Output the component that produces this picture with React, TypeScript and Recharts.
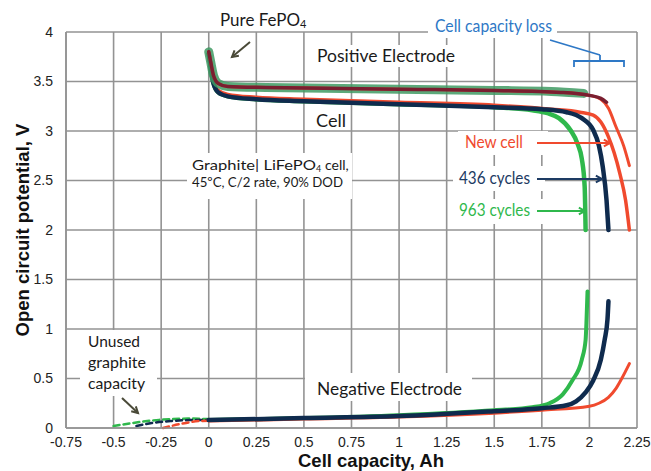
import React from 'react';
import { LineChart, Line, XAxis, YAxis, CartesianGrid } from 'recharts';

type Pt = [number, number];

// x ticks (Ah) and y ticks (V)
const xTicks = [-0.75, -0.5, -0.25, 0, 0.25, 0.5, 0.75, 1, 1.25, 1.5, 1.75, 2, 2.25];
const yTicks = [0, 0.5, 1, 1.5, 2, 2.5, 3, 3.5, 4];

// positive electrode
const posNew: Pt[] = [
  [0, 3.8], [0.01, 3.7], [0.025, 3.56], [0.05, 3.48], [0.1, 3.45], [0.3, 3.44], [0.7, 3.43],
  [1.1, 3.42], [1.5, 3.41], [1.85, 3.39], [2.0, 3.36], [2.06, 3.32], [2.1, 3.23], [2.14, 3.04],
  [2.18, 2.85], [2.21, 2.65],
];
const pos436: Pt[] = [
  [0, 3.8], [0.01, 3.7], [0.025, 3.56], [0.05, 3.48], [0.1, 3.45], [0.3, 3.44], [0.7, 3.43],
  [1.1, 3.42], [1.5, 3.41], [1.85, 3.39], [2.0, 3.36], [2.06, 3.33], [2.09, 3.29],
];
const pos963: Pt[] = [
  [0, 3.8], [0.01, 3.7], [0.025, 3.56], [0.05, 3.48], [0.1, 3.45], [0.3, 3.44], [0.7, 3.43],
  [1.1, 3.42], [1.5, 3.41], [1.8, 3.4], [1.97, 3.38],
];

// cell
const cellNew: Pt[] = [
  [0, 3.78], [0.01, 3.66], [0.025, 3.5], [0.05, 3.41], [0.1, 3.37], [0.25, 3.34], [0.5, 3.32],
  [1.0, 3.29], [1.5, 3.26], [1.8, 3.22], [1.95, 3.19], [2.02, 3.16], [2.06, 3.09], [2.1, 2.94],
  [2.13, 2.78], [2.16, 2.57], [2.19, 2.3], [2.21, 2.0],
];
const cell436: Pt[] = [
  [0, 3.78], [0.01, 3.65], [0.025, 3.48], [0.05, 3.39], [0.1, 3.35], [0.25, 3.32], [0.5, 3.3],
  [1.0, 3.27], [1.5, 3.24], [1.75, 3.22], [1.88, 3.19], [1.96, 3.13], [2.02, 3.01], [2.05, 2.85],
  [2.07, 2.64], [2.09, 2.3], [2.1, 2.0],
];
const cell963: Pt[] = [
  [0, 3.78], [0.01, 3.65], [0.025, 3.48], [0.05, 3.39], [0.1, 3.35], [0.25, 3.32], [0.5, 3.3],
  [1.0, 3.27], [1.5, 3.24], [1.7, 3.21], [1.78, 3.18], [1.84, 3.13], [1.9, 3.01], [1.94, 2.86],
  [1.96, 2.72], [1.975, 2.44], [1.98, 2.0],
];

// negative electrode
const negNew: Pt[] = [
  [0, 0.07], [0.5, 0.09], [1.0, 0.11], [1.5, 0.15], [1.75, 0.18], [2.0, 0.22], [2.05, 0.25],
  [2.1, 0.31], [2.14, 0.4], [2.17, 0.5], [2.21, 0.65],
];
const neg436: Pt[] = [
  [0, 0.08], [0.5, 0.1], [1.0, 0.12], [1.5, 0.17], [1.75, 0.2], [1.88, 0.23], [1.93, 0.27],
  [1.98, 0.36], [2.02, 0.48], [2.06, 0.69], [2.08, 0.89], [2.095, 1.1], [2.1, 1.28],
];
const neg963: Pt[] = [
  [0, 0.08], [0.5, 0.1], [1.0, 0.13], [1.5, 0.18], [1.7, 0.21], [1.79, 0.25], [1.86, 0.34],
  [1.91, 0.48], [1.96, 0.69], [1.98, 0.89], [1.985, 1.1], [1.99, 1.38],
];

// unused graphite capacity (dashed)
const unusedNew: Pt[] = [[-0.24, 0.0], [-0.15, 0.04], [-0.05, 0.07], [0.05, 0.075]];
const unused436: Pt[] = [[-0.38, 0.02], [-0.3, 0.05], [-0.2, 0.07], [-0.1, 0.08], [0, 0.08]];
const unused963: Pt[] = [[-0.5, 0.02], [-0.4, 0.05], [-0.3, 0.075], [-0.2, 0.09], [-0.1, 0.095], [0, 0.09]];

const RED = '#f04a2e';
const BLUE = '#0f2b4e';
const GREEN = '#2fb84c';
const POS_GREEN = '#3f9a63';
const MAROON = '#7a1e30';

const toRows = (pts: Pt[]) => pts.map(([x, y]) => ({ x, y }));

const font = 'Lato, "Open Sans", sans-serif';

function Arrow({ x1, y1, x2, y2, color }: { x1: number; y1: number; x2: number; y2: number; color: string }) {
  const a = Math.atan2(y2 - y1, x2 - x1);
  const h = 7;
  const p1 = [x2 - h * Math.cos(a - 0.5), y2 - h * Math.sin(a - 0.5)];
  const p2 = [x2 - h * Math.cos(a + 0.5), y2 - h * Math.sin(a + 0.5)];
  return (
    <g stroke={color} strokeWidth={2} fill="none">
      <line x1={x1} y1={y1} x2={x2} y2={y2} />
      <polyline points={`${p1[0]},${p1[1]} ${x2},${y2} ${p2[0]},${p2[1]}`} />
    </g>
  );
}

function Notes() {
  return (
    <svg width={651} height={471} style={{ position: 'absolute', left: 0, top: 0, pointerEvents: 'none' }}>
      {/* white boxes behind labels */}
      <rect x={428} y={16} width={129} height={22} fill="#fff" />
      <rect x={314} y={45} width={145} height={22} fill="#fff" />
      <rect x={187} y={153} width={165} height={46} fill="#fff" />
      <rect x={458} y={131} width={90} height={24} fill="#fff" />
      <rect x={453} y={166} width={92} height={25} fill="#fff" />
      <rect x={453} y={199} width={92} height={25} fill="#fff" />
      <rect x={80} y={330} width={77} height={66} fill="#fff" />
      <rect x={305} y={373} width={167} height={28} fill="#fff" />

      <g fontFamily={font} fill="#1a1a1a">
        <text x={220} y={26} fontSize={17} textLength={80} lengthAdjust="spacingAndGlyphs">Pure FePO</text>
        <text x={300} y={28} fontSize={11}>4</text>
        <text x={317} y={62} fontSize={17} textLength={138} lengthAdjust="spacingAndGlyphs">Positive Electrode</text>
        <text x={316} y={127} fontSize={17} textLength={30} lengthAdjust="spacingAndGlyphs">Cell</text>
        <text x={192} y={170} fontSize={14} textLength={124} lengthAdjust="spacingAndGlyphs">Graphite| LiFePO</text>
        <text x={316} y={172} fontSize={9}>4</text>
        <text x={325} y={170} fontSize={14}>cell,</text>
        <text x={192} y={187} fontSize={14} textLength={151} lengthAdjust="spacingAndGlyphs">45ºC, C/2 rate, 90% DOD</text>
        <text x={88} y={347} fontSize={15} textLength={52} lengthAdjust="spacingAndGlyphs">Unused</text>
        <text x={88} y={368} fontSize={15} textLength={58} lengthAdjust="spacingAndGlyphs">graphite</text>
        <text x={88} y={389} fontSize={15} textLength={57} lengthAdjust="spacingAndGlyphs">capacity</text>
        <text x={317} y={395} fontSize={17} textLength={145} lengthAdjust="spacingAndGlyphs">Negative Electrode</text>
      </g>
      <text x={465} y={148} fontSize={17} fontFamily={font} fill={RED} textLength={58} lengthAdjust="spacingAndGlyphs">New cell</text>
      <text x={459} y={184} fontSize={17} fontFamily={font} fill="#1d3b63" textLength={71} lengthAdjust="spacingAndGlyphs">436 cycles</text>
      <text x={459} y={216} fontSize={17} fontFamily={font} fill={GREEN} textLength={71} lengthAdjust="spacingAndGlyphs">963 cycles</text>
      <text x={435} y={32} fontSize={17} fontFamily={font} fill="#2e78c6" textLength={117} lengthAdjust="spacingAndGlyphs">Cell capacity loss</text>

      <Arrow x1={250} y1={42} x2={232} y2={57} color="#4a4a38" />
      <Arrow x1={122} y1={398} x2={138} y2={413} color="#4a4a38" />
      <Arrow x1={537} y1={143} x2={610} y2={143} color={RED} />
      <Arrow x1={537} y1={179} x2={602} y2={179} color="#1d3b63" />
      <Arrow x1={537} y1={211} x2={585} y2={211} color={GREEN} />

      <g stroke="#2e78c6" strokeWidth={1.8} fill="none">
        <line x1={550} y1={40} x2={600} y2={55} />
        <polyline points="574,67 574,61 624,61 624,67" />
        <line x1={600} y1={61} x2={600} y2={55} />
      </g>

      <text x={371} y={467} textAnchor="middle" fontSize={18.5} fontWeight="bold" fontFamily="Liberation Sans, Arial, sans-serif" fill="#111">
        Cell capacity, Ah
      </text>
      <text
        x={0}
        y={0}
        transform="translate(29,230) rotate(-90)"
        textAnchor="middle"
        fontSize={18.5}
        fontWeight="bold"
        fontFamily="Liberation Sans, Arial, sans-serif"
        fill="#111"
      >
        Open circuit potential, V
      </text>
    </svg>
  );
}

export default function App() {
  const line = (key: string, pts: Pt[], color: string, width: number, dash?: string, opacity = 1) => (
    <Line
      key={key}
      data={toRows(pts)}
      dataKey="y"
      type="monotone"
      stroke={color}
      strokeWidth={width}
      strokeDasharray={dash}
      strokeOpacity={opacity}
      strokeLinecap="round"
      dot={false}
      activeDot={false}
      isAnimationActive={false}
    />
  );
  const tick = { fill: '#222', fontSize: 14, fontFamily: 'Liberation Sans, Arial, sans-serif' };
  return (
    <div style={{ position: 'absolute', left: 0, top: 0, width: 651, height: 471, background: '#fff' }}>
      <LineChart width={651} height={471} margin={{ top: 32, right: 14, bottom: 13, left: 6 }}>
        <CartesianGrid stroke="#939393" strokeWidth={1.6} horizontalValues={yTicks} verticalValues={xTicks} />
        <XAxis
          dataKey="x"
          type="number"
          domain={[-0.75, 2.25]}
          ticks={xTicks}
          allowDataOverflow
          height={30}
          tickSize={0}
          tickMargin={9}
          axisLine={{ stroke: '#939393', strokeWidth: 1.6 }}
          tick={tick}
          interval={0}
        />
        <YAxis
          type="number"
          domain={[0, 4]}
          ticks={yTicks}
          width={60}
          tickSize={0}
          tickMargin={13}
          axisLine={{ stroke: '#939393', strokeWidth: 1.6 }}
          tick={tick}
          interval={0}
        />
        {line('u963', unused963, GREEN, 2.5, '6 4')}
        {line('u436', unused436, BLUE, 2.5, '6 4')}
        {line('uNew', unusedNew, RED, 2.5, '6 4')}
        {line('n963', neg963, GREEN, 4)}
        {line('nNew', negNew, RED, 3)}
        {line('n436', neg436, BLUE, 4.5)}
        {line('c963', cell963, GREEN, 4.5)}
        {line('cNew', cellNew, RED, 3.5)}
        {line('c436', cell436, BLUE, 4.5)}
        {line('p963', pos963, POS_GREEN, 9, undefined, 0.85)}
        {line('pNew', posNew, RED, 3)}
        {line('p436', pos436, MAROON, 3.5)}
      </LineChart>
      <Notes />
    </div>
  );
}
